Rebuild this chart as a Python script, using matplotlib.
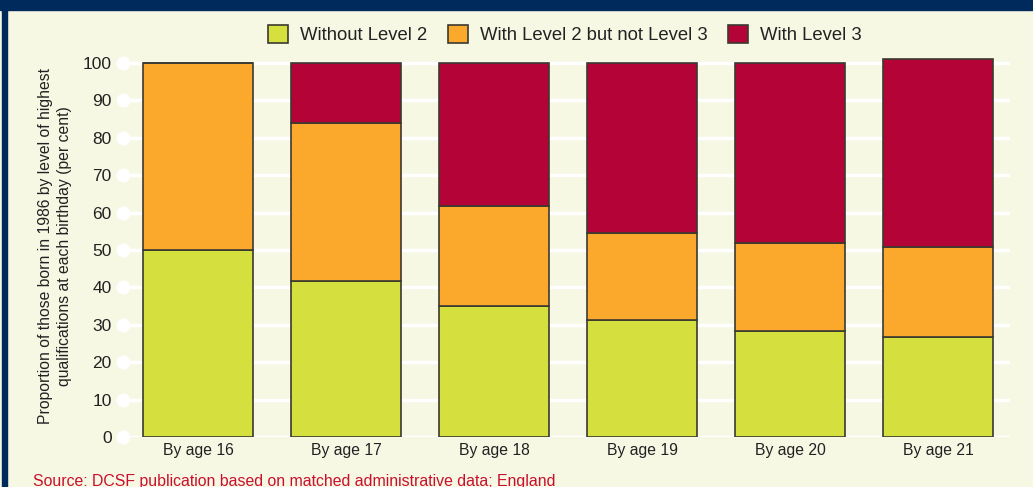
import numpy as np
import matplotlib
matplotlib.use('Agg')
import matplotlib.pyplot as plt
from matplotlib.patches import Rectangle

ages = ['By age 16', 'By age 17', 'By age 18', 'By age 19', 'By age 20', 'By age 21']
without_l2 = [50.0, 41.7, 35.0, 31.3, 28.3, 26.7]
l2_not_l3 = [50.0, 42.3, 26.8, 23.2, 23.6, 24.1]
with_l3 = [0.0, 16.0, 38.2, 45.5, 48.1, 50.3]
series_names = ['Without Level 2', 'With Level 2 but not Level 3', 'With Level 3']
series_colors = ['#d5df3d', '#fba92d', '#b30337']
yticks = list(range(0, 101, 10))

bg = '#f7f8e4'
navy = '#002a5c'

plt.rcParams['font.family'] = ['Liberation Sans', 'DejaVu Sans']

fig = plt.figure(figsize=(10.33, 4.87), dpi=100, facecolor=bg)
ax = fig.add_axes([120 / 1033, 50 / 487, 890 / 1033, 381.5 / 487])
ax.set_facecolor(bg)

# frame strips
fig.patches.append(Rectangle((0, 1 - 10 / 487), 1, 10 / 487, transform=fig.transFigure,
                             color=navy, zorder=0))
fig.patches.append(Rectangle((2 / 1033, 0), 5 / 1033, 1, transform=fig.transFigure,
                             color=navy, zorder=0))

x = np.arange(len(ages))
bottom = np.zeros(len(ages))
for vals, name, col in zip([without_l2, l2_not_l3, with_l3], series_names, series_colors):
    vals = np.array(vals)
    ax.bar(x, vals, 0.74, bottom=bottom, color=col, edgecolor='#3a3a30',
           linewidth=1.2, label=name, zorder=3)
    bottom += vals

for v in yticks:
    ax.axhline(v, color='white', lw=2.5, zorder=1)
ax.plot(np.full(len(yticks), -0.51), yticks, 'o', color='white', ms=9,
        clip_on=False, zorder=2)

ax.set_xlim(-0.527, 5.486)
ax.set_ylim(0, 102)
ax.set_yticks(yticks)
ax.set_xticks(x)
ax.set_xticklabels(ages, fontsize=11.3, color='#222222')
ax.tick_params(axis='y', length=0, pad=6, labelsize=12.5, labelcolor='#222222')
ax.tick_params(axis='x', length=0, pad=4)
for s in ax.spines.values():
    s.set_visible(False)

ax.set_ylabel('Proportion of those born in 1986 by level of highest\n'
              'qualifications at each birthday (per cent)', fontsize=11.3,
              color='#222222', labelpad=8, linespacing=1.3)

ax.legend(loc='center', bbox_to_anchor=(0.5, 1.054), ncol=3, frameon=False,
          fontsize=13.3, handlelength=1.08, handleheight=1.08, columnspacing=1.1,
          handletextpad=0.65, labelcolor='#222222')

fig.text(33 / 1033, 1 - 486 / 487, 'Source: DCSF publication based on matched administrative data; England',
         fontsize=11.4, color='#c8102e', va='baseline')

fig.savefig('out.png', dpi=100, facecolor=bg)
